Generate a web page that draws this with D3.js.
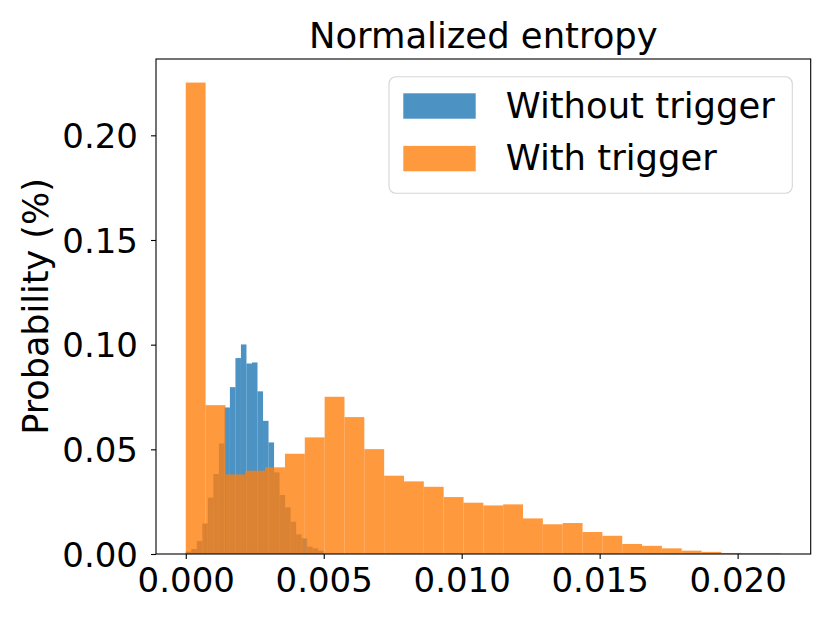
<!DOCTYPE html>
<html>
<head>
<meta charset="utf-8">
<script src="https://cdn.jsdelivr.net/npm/d3@7"></script>
<style>
  body { margin: 0; background: #fff; }
  text { font-family: "DejaVu Sans", sans-serif; fill: #000; }
</style>
</head>
<body>
<script>
var width = 830,
    height = 623;

// histogram: "Without trigger", 25 bins over [0, 0.005]
var withoutRange = [0, 0.005];
var withoutValues = [0.0011, 0.0024, 0.0062, 0.0146, 0.0269, 0.0382, 0.0528,
                     0.0700, 0.0797, 0.0936, 0.1001, 0.0910, 0.0915, 0.0777,
                     0.0636, 0.0533, 0.0390, 0.0282, 0.0223, 0.0154, 0.0094,
                     0.0075, 0.0035, 0.0027, 0.0016];

// histogram: "With trigger", 30 bins over [0, 0.02157]
var withRange = [0, 0.02157];
var withValues = [0.2252, 0.0711, 0.0380, 0.0398, 0.0414, 0.0479, 0.0557,
                  0.0751, 0.0654, 0.0501, 0.0374, 0.0347, 0.0321, 0.0272,
                  0.0245, 0.0232, 0.0237, 0.0170, 0.0142, 0.0148, 0.0105,
                  0.0087, 0.0048, 0.0039, 0.0027, 0.0016, 0.0010, 0.0005,
                  0.0003, 0.0003];

var seriesNames = ["Without trigger", "With trigger"];
var colors = ["#1f77b4", "#ff7f0e"];

var xTicks = [0, 0.005, 0.010, 0.015, 0.020];
var yTicks = [0, 0.05, 0.10, 0.15, 0.20];

var plot = {left: 156, right: 810.7, top: 59, bottom: 554};

// matplotlib style 5% margins
var xMin = Math.min(withoutRange[0], withRange[0]),
    xMax = Math.max(withoutRange[1], withRange[1]),
    xPad = (xMax - xMin) * 0.05;
var yMax = d3.max(withoutValues.concat(withValues)) * 1.05;

var xScale = d3.scaleLinear()
    .domain([xMin - xPad, xMax + xPad])
    .range([plot.left, plot.right]);

var yScale = d3.scaleLinear()
    .domain([0, yMax])
    .range([plot.bottom, plot.top]);

function toBins(range, values) {
    var w = (range[1] - range[0]) / values.length;
    return values.map(function(v, i) {
        return {x0: range[0] + i * w, x1: range[0] + (i + 1) * w, v: v};
    });
}

var svg = d3.select("body")
    .append("svg")
    .attr("width", width)
    .attr("height", height);

// bars
[toBins(withoutRange, withoutValues), toBins(withRange, withValues)].forEach(function(bins, s) {
    svg.append("g")
        .selectAll("rect")
        .data(bins)
        .enter()
        .append("rect")
        .attr("x", function(d) { return xScale(d.x0); })
        .attr("width", function(d) { return xScale(d.x1) - xScale(d.x0); })
        .attr("y", function(d) { return yScale(d.v); })
        .attr("height", function(d) { return yScale(0) - yScale(d.v); })
        .attr("fill", colors[s])
        .attr("fill-opacity", 0.8);
});

// axes
var xAxis = svg.append("g")
    .attr("transform", "translate(0," + plot.bottom + ")")
    .call(d3.axisBottom(xScale).tickValues(xTicks).tickFormat(d3.format(".3f")).tickSize(5));

var yAxis = svg.append("g")
    .attr("transform", "translate(" + plot.left + ",0)")
    .call(d3.axisLeft(yScale).tickValues(yTicks).tickFormat(d3.format(".2f")).tickSize(5));

[xAxis, yAxis].forEach(function(a) {
    a.select(".domain").remove();
    a.selectAll(".tick line").attr("stroke", "#000").attr("stroke-width", 1.1);
    a.selectAll(".tick text")
        .style("font-family", "DejaVu Sans")
        .style("font-size", "34px")
        .attr("fill", "#000");
});
xAxis.selectAll(".tick text").attr("y", 37.9).attr("dy", null);
yAxis.selectAll(".tick text").attr("x", -18).attr("dy", "0.36em");

// frame
svg.append("rect")
    .attr("x", plot.left)
    .attr("y", plot.top)
    .attr("width", plot.right - plot.left)
    .attr("height", plot.bottom - plot.top)
    .attr("fill", "none")
    .attr("stroke", "#000")
    .attr("stroke-width", 1.1);

// title and label
svg.append("text")
    .attr("x", (plot.left + plot.right) / 2)
    .attr("y", 48.3)
    .attr("text-anchor", "middle")
    .style("font-size", "35.4px")
    .text("Normalized entropy");

svg.append("text")
    .attr("transform", "translate(48," + (plot.top + plot.bottom) / 2 + ") rotate(-90)")
    .attr("text-anchor", "middle")
    .style("font-size", "35px")
    .text("Probability (%)");

// legend
var legend = svg.append("g");
legend.append("rect")
    .attr("x", 389)
    .attr("y", 76.7)
    .attr("width", 403.3)
    .attr("height", 116.6)
    .attr("rx", 7)
    .attr("fill", "#fff")
    .attr("fill-opacity", 0.8)
    .attr("stroke", "#d6d6d6")
    .attr("stroke-width", 1.1);

seriesNames.forEach(function(name, i) {
    legend.append("rect")
        .attr("x", 403.3)
        .attr("y", 93.3 + i * 52.6)
        .attr("width", 72.4)
        .attr("height", 25.4)
        .attr("fill", colors[i])
        .attr("fill-opacity", 0.8);
    legend.append("text")
        .attr("x", 505.7)
        .attr("y", 117.7 + i * 52.4)
        .style("font-size", "35.4px")
        .text(name);
});
</script>
</body>
</html>
